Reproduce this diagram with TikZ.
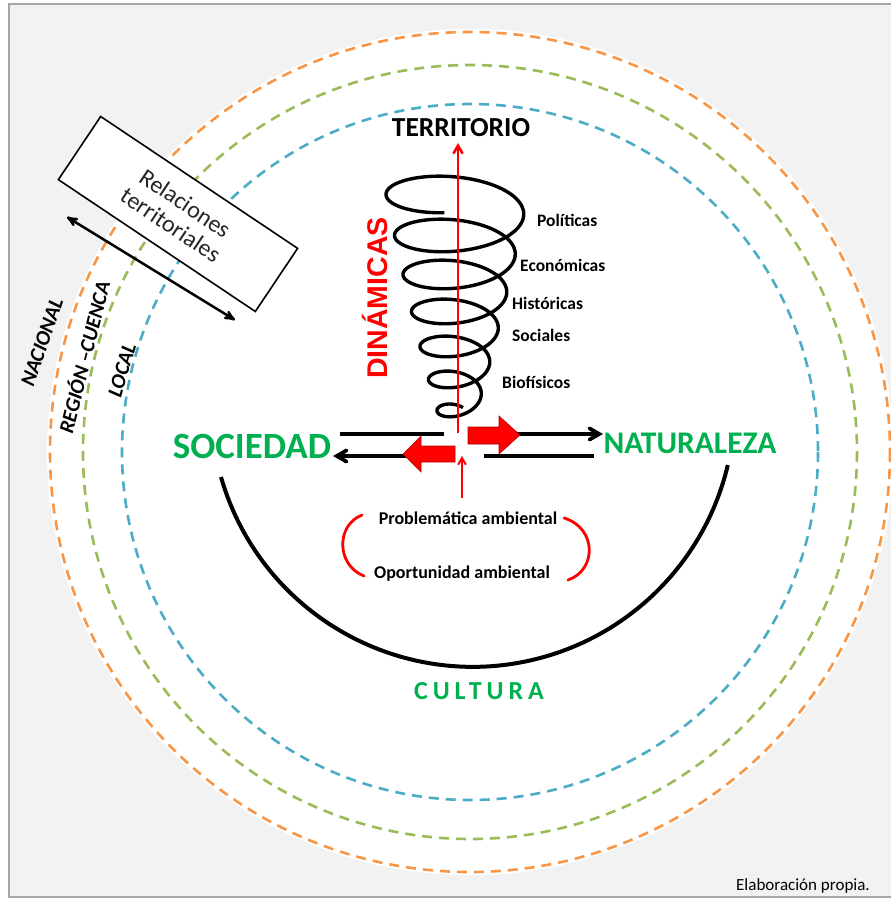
\documentclass[tikz,border=0pt]{standalone}
\usepackage{fontspec}
\setmainfont{Carlito}
\newfontfamily\headfont{Liberation Sans}
\usepackage{tikz}
\usetikzlibrary{shapes,arrows}
\definecolor{framegray}{HTML}{A6A6A6}
\definecolor{bggray}{HTML}{F2F2F2}
\definecolor{ringorange}{HTML}{F79646}
\definecolor{ringgreen}{HTML}{9BBB59}
\definecolor{ringblue}{HTML}{4BACC6}
\definecolor{polegreen}{HTML}{00B050}
\definecolor{arrowred}{HTML}{FF0000}
\tikzstyle{ring} = [line width=2.6pt, dash pattern=on 10pt off 7pt]
\tikzstyle{scalelabel} = [font=\bfseries\itshape\fontsize{21}{23}\selectfont, inner sep=0pt]
\tikzstyle{dimension} = [font=\bfseries\fontsize{17.5}{19}\selectfont, anchor=west, inner sep=0pt]
\tikzstyle{pole} = [font=\bfseries\fontsize{37}{40}\selectfont, text=polegreen, inner sep=0pt]
\tikzstyle{flow} = [line width=3.8pt, -angle 60]
\tikzstyle{block} = [fill=arrowred, draw=red!70!black, line width=0.6pt]
\tikzstyle{bracket} = [draw=arrowred, line width=2.8pt, line cap=round]

\begin{document}
\begin{tikzpicture}[x=1pt, y=-1pt]
		\useasboundingbox (0,0) rectangle (891,898);
		\fill [white] (0,0) rectangle (891,898);
		\filldraw [fill=bggray, draw=framegray, line width=2pt] (8.5,4) rectangle (900,896.5);
		\coordinate (centre) at (470,452);
		\fill [white] (centre) circle (423);
		\draw [ring, ringorange] (centre) circle (420);
		\draw [ring, ringgreen] (centre) circle (387);
		\draw [ring, ringblue] (centre) circle (348);
		
		\node [scalelabel, rotate=71] (nacional) at (42,342) {NACIONAL};
		\node [scalelabel, rotate=76] (region) at (83,357) {REGIÓN –CUENCA};
		\node [scalelabel, rotate=73.5] (local) at (122,370) {LOCAL};
		
		\node [draw, line width=1.6pt, fill=white, rotate=-33.8, minimum width=237, minimum height=76,
			align=center, font=\fontsize{24}{26}\selectfont, text=black!85] (relaciones) at (178,214) {Relaciones\\territoriales};
		\coordinate (relstart) at (67,217);
		\coordinate (relend) at (235,320);
		\draw [line width=2.5pt, stealth'-stealth'] (relstart) -- (relend);
		
		\draw [line width=3.4pt, line join=round] plot [domain=-80:2270, samples=600, smooth, variable=\t]
			({457-(71-8.5*(\t/360))*cos(\t)}, {194+42*(\t/360)-(\t/360)*(\t/360)-(28-2.5*(\t/360))*sin(\t)});
		
		\node [font=\bfseries\fontsize{27.5}{30}\selectfont, inner sep=0pt] (territorio) at (461,128) {TERRITORIO};
		\node [font=\headfont\bfseries\fontsize{28.5}{30}\selectfont, text=arrowred, rotate=90, inner sep=0pt] (dinamicas) at (375,298) {DINÁMICAS};
		\node [dimension] (politicas) at (537,220) {Políticas};
		\node [dimension] (economicas) at (520,265) {Económicas};
		\node [dimension] (historicas) at (512,303) {Históricas};
		\node [dimension] (sociales) at (512,335) {Sociales};
		\node [dimension] (biofisicos) at (502,382) {Biofísicos};
		
		\node [pole] (sociedad) at (252,446) {SOCIEDAD};
		\node [pole, font=\bfseries\fontsize{31.5}{34}\selectfont] (naturaleza) at (690,443) {NATURALEZA};
		\coordinate (topleft) at (340,434);
		\coordinate (topright) at (603,434);
		\coordinate (botright) at (594,456);
		\coordinate (botleft) at (333,456);
		\draw [flow] (topleft) -- (topright);
		\draw [flow] (botright) -- (botleft);
		\fill [white] (444,428) rectangle (484,461);
		\filldraw [block] (468,427) -- (499,427) -- (499,416) -- (520,435) -- (499,454) -- (499,444) -- (468,444) -- cycle;
		\filldraw [block] (455,446) -- (421,446) -- (421,436) -- (403,454) -- (421,472) -- (421,462) -- (455,462) -- cycle;
		
		\coordinate (axisbase) at (458,433);
		\coordinate (axistop) at (458,143);
		\draw [arrowred, line width=2.6pt, -angle 60] (axisbase) -- (axistop);
		\coordinate (issuebase) at (462,498);
		\coordinate (issuetop) at (462,456);
		\draw [arrowred, line width=2pt, -angle 60] (issuebase) -- (issuetop);
		
		\node [dimension, anchor=center, font=\bfseries\fontsize{18}{20}\selectfont] (problematica) at (468,518) {Problemática ambiental};
		\node [dimension, anchor=center, font=\bfseries\fontsize{18}{20}\selectfont] (oportunidad) at (462,574) {Oportunidad ambiental};
		\coordinate (lbtop) at (362,515);
		\coordinate (lbbot) at (364,576);
		\coordinate (rbtop) at (564,518);
		\coordinate (rbbot) at (568,580);
		\draw [bracket] (lbtop) .. controls (336,525) and (336,565) .. (lbbot);
		\draw [bracket] (rbtop) .. controls (597,528) and (597,570) .. (rbbot);
		
		\coordinate (bowlleft) at (221,477);
		\draw [line width=4pt] (bowlleft) arc [start angle=164, end angle=13.3, radius=262];
		\node [font=\bfseries\fontsize{26}{28}\selectfont\addfontfeature{LetterSpace=19}, text=polegreen] (cultura) at (479,691) {CULTURA};
		
		\node [font=\fontsize{17}{19}\selectfont, anchor=east, inner sep=0pt] (fuente) at (870,886) {Elaboración propia.};
		\end{tikzpicture}
\end{document}
